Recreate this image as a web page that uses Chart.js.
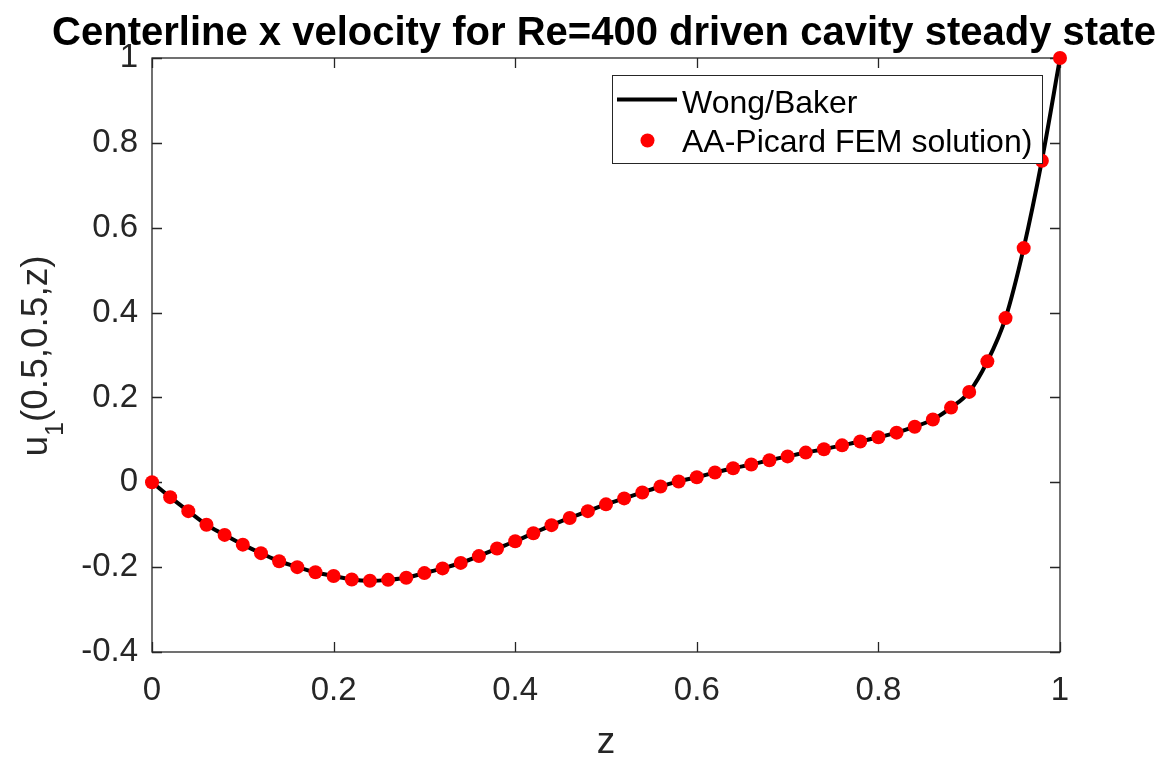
<!DOCTYPE html>
<html>
<head>
<meta charset="utf-8">
<title>Centerline x velocity, Re=400 driven cavity</title>
<script src="https://cdn.jsdelivr.net/npm/chart.js@4.4.1/dist/chart.umd.min.js"></script>
<style>
    html, body { margin: 0; padding: 0; background: #fff; }
    #wrap { width: 1170px; height: 760px; }
</style>
</head>
<body>
<div id="wrap"><canvas id="cavityChart" width="1170" height="760"></canvas></div>
<script>
// ----- data -----
const zValues = [
    0.00, 0.02, 0.04, 0.06, 0.08, 0.10, 0.12, 0.14, 0.16, 0.18,
    0.20, 0.22, 0.24, 0.26, 0.28, 0.30, 0.32, 0.34, 0.36, 0.38,
    0.40, 0.42, 0.44, 0.46, 0.48, 0.50, 0.52, 0.54, 0.56, 0.58,
    0.60, 0.62, 0.64, 0.66, 0.68, 0.70, 0.72, 0.74, 0.76, 0.78,
    0.80, 0.82, 0.84, 0.86, 0.88, 0.90, 0.92, 0.94, 0.96, 0.98, 1.00
];

// AA-Picard FEM solution (red dots)
const picardU = [
    0.000, -0.035, -0.068, -0.100, -0.124, -0.147, -0.167, -0.186, -0.200, -0.212,
    -0.221, -0.229, -0.232, -0.230, -0.225, -0.214, -0.203, -0.190, -0.174, -0.156,
    -0.139, -0.120, -0.101, -0.084, -0.068, -0.052, -0.038, -0.024, -0.010, 0.002,
    0.012, 0.023, 0.033, 0.042, 0.052, 0.061, 0.070, 0.078, 0.087, 0.096,
    0.106, 0.117, 0.131, 0.148, 0.176, 0.213, 0.285, 0.387, 0.552, 0.758, 1.000
];

// Wong/Baker reference curve (black line), lies on top of the dots
const wongBakerU = [
    0.000, -0.035, -0.068, -0.100, -0.124, -0.147, -0.167, -0.186, -0.200, -0.212,
    -0.221, -0.229, -0.232, -0.230, -0.225, -0.214, -0.203, -0.190, -0.174, -0.156,
    -0.139, -0.120, -0.101, -0.084, -0.068, -0.052, -0.038, -0.024, -0.010, 0.002,
    0.012, 0.023, 0.033, 0.042, 0.052, 0.061, 0.070, 0.078, 0.087, 0.096,
    0.106, 0.117, 0.131, 0.148, 0.176, 0.213, 0.285, 0.387, 0.552, 0.758, 1.000
];

const xTickValues = [0, 0.2, 0.4, 0.6, 0.8, 1];
const yTickValues = [-0.4, -0.2, 0, 0.2, 0.4, 0.6, 0.8, 1];

const titleText = "Centerline x velocity for Re=400 driven cavity steady state";
const xLabelText = "z";
const legendLabels = ["Wong/Baker", "AA-Picard FEM solution)"];

// ----- look -----
const FONT = '"Liberation Sans", Arial, Helvetica, sans-serif';
const AXIS_COLOR = "#262626";
const TICK_LEN = 10;

function toPoints(xs, ys) {
    return xs.map((x, i) => ({ x: x, y: ys[i] }));
}

function fmtTick(v) {
    return String(Math.round(v * 10) / 10);
}

// Box round the plot with MATLAB style inward ticks on all four sides
const boxPlugin = {
    id: "matlabBox",
    beforeDatasetsDraw(chart) {
        const { ctx, chartArea: a, scales } = chart;
        ctx.save();
        ctx.strokeStyle = AXIS_COLOR;
        ctx.lineWidth = 1.3;
        ctx.strokeRect(a.left, a.top, a.right - a.left, a.bottom - a.top);
        ctx.beginPath();
        xTickValues.forEach(function (v) {
            const px = Math.round(scales.x.getPixelForValue(v)) + 0.5;
            ctx.moveTo(px, a.bottom); ctx.lineTo(px, a.bottom - TICK_LEN);
            ctx.moveTo(px, a.top); ctx.lineTo(px, a.top + TICK_LEN);
        });
        yTickValues.forEach(function (v) {
            const py = Math.round(scales.y.getPixelForValue(v)) + 0.5;
            ctx.moveTo(a.left, py); ctx.lineTo(a.left + TICK_LEN, py);
            ctx.moveTo(a.right, py); ctx.lineTo(a.right - TICK_LEN, py);
        });
        ctx.stroke();
        ctx.restore();
    }
};

// Title, axis labels (the y label has a real subscript) and the legend
const textPlugin = {
    id: "matlabText",
    afterDraw(chart) {
        const { ctx, chartArea: a } = chart;
        const midX = (a.left + a.right) / 2;
        ctx.save();

        // title
        ctx.fillStyle = "#000";
        ctx.font = "bold 40px " + FONT;
        ctx.textAlign = "center";
        ctx.textBaseline = "alphabetic";
        ctx.fillText(titleText, midX - 2, 45);

        // x label
        ctx.fillStyle = AXIS_COLOR;
        ctx.font = "37px " + FONT;
        ctx.fillText(xLabelText, midX, 753);

        // y label: u_1(0.5,0.5,z), rotated
        const big = "37px " + FONT, small = "25px " + FONT;
        ctx.font = big;
        const wU = ctx.measureText("u").width;
        const wRest = ctx.measureText("(0.5,0.5,z)").width;
        ctx.font = small;
        const wSub = ctx.measureText("1").width;
        const total = wU + wSub + wRest;
        ctx.translate(47, (a.top + a.bottom) / 2 + 1);
        ctx.rotate(-Math.PI / 2);
        ctx.textAlign = "left";
        let x0 = -total / 2;
        ctx.font = big;
        ctx.fillText("u", x0, 0);
        ctx.font = small;
        ctx.fillText("1", x0 + wU, 16);
        ctx.font = big;
        ctx.fillText("(0.5,0.5,z)", x0 + wU + wSub, 0);
        ctx.setTransform(1, 0, 0, 1, 0, 0);

        // legend (drawn on top of the data, white box)
        const line = chart.data.datasets[1];
        const dots = chart.data.datasets[0];
        const bx = 612.5, by = 75.5, bw = 430, bh = 88;
        ctx.fillStyle = "#fff";
        ctx.fillRect(bx, by, bw, bh);
        ctx.strokeStyle = AXIS_COLOR;
        ctx.lineWidth = 1;
        ctx.strokeRect(bx, by, bw, bh);

        ctx.strokeStyle = line.borderColor;
        ctx.lineWidth = line.borderWidth;
        ctx.beginPath();
        ctx.moveTo(617, 99.5); ctx.lineTo(677, 99.5);
        ctx.stroke();

        ctx.fillStyle = dots.backgroundColor;
        ctx.beginPath();
        ctx.arc(647.5, 140.5, dots.pointRadius, 0, Math.PI * 2);
        ctx.fill();

        ctx.fillStyle = "#000";
        ctx.font = "32px " + FONT;
        ctx.textAlign = "left";
        ctx.textBaseline = "alphabetic";
        ctx.fillText(line.label, 682, 113);
        ctx.fillText(dots.label, 682, 152);
        ctx.restore();
    }
};

const tickFont = { family: FONT, size: 33 };

new Chart(document.getElementById("cavityChart"), {
    type: "scatter",
    data: {
        datasets: [
            {
                label: legendLabels[1],
                data: toPoints(zValues, picardU),
                showLine: false,
                pointRadius: 7,
                pointHoverRadius: 7,
                backgroundColor: "#ff0000",
                borderWidth: 0,
                pointBorderWidth: 0,
                clip: false,
                order: 0
            },
            {
                label: legendLabels[0],
                data: toPoints(zValues, wongBakerU),
                showLine: true,
                pointRadius: 0,
                borderColor: "#000000",
                borderWidth: 4,
                cubicInterpolationMode: "monotone",
                clip: false,
                order: 1
            }
        ]
    },
    options: {
        responsive: false,
        devicePixelRatio: 1,
        animation: false,
        events: [],
        layout: { padding: { left: 0, right: 110, top: 58, bottom: 0 } },
        plugins: {
            legend: { display: false },
            title: { display: false },
            tooltip: { enabled: false }
        },
        scales: {
            x: {
                type: "linear",
                min: 0, max: 1,
                afterBuildTicks(scale) { scale.ticks = xTickValues.map(v => ({ value: v })); },
                ticks: {
                    padding: 19, color: AXIS_COLOR, font: tickFont,
                    maxRotation: 0, autoSkip: false, callback: fmtTick
                },
                grid: { display: false, drawTicks: false },
                border: { display: false },
                afterFit(scale) { scale.height = 108; }
            },
            y: {
                type: "linear",
                min: -0.4, max: 1,
                afterBuildTicks(scale) { scale.ticks = yTickValues.map(v => ({ value: v })); },
                ticks: {
                    padding: 14, color: AXIS_COLOR, font: tickFont,
                    autoSkip: false, callback: fmtTick
                },
                grid: { display: false, drawTicks: false },
                border: { display: false },
                afterFit(scale) { scale.width = 152; }
            }
        }
    },
    plugins: [boxPlugin, textPlugin]
});
</script>
</body>
</html>
